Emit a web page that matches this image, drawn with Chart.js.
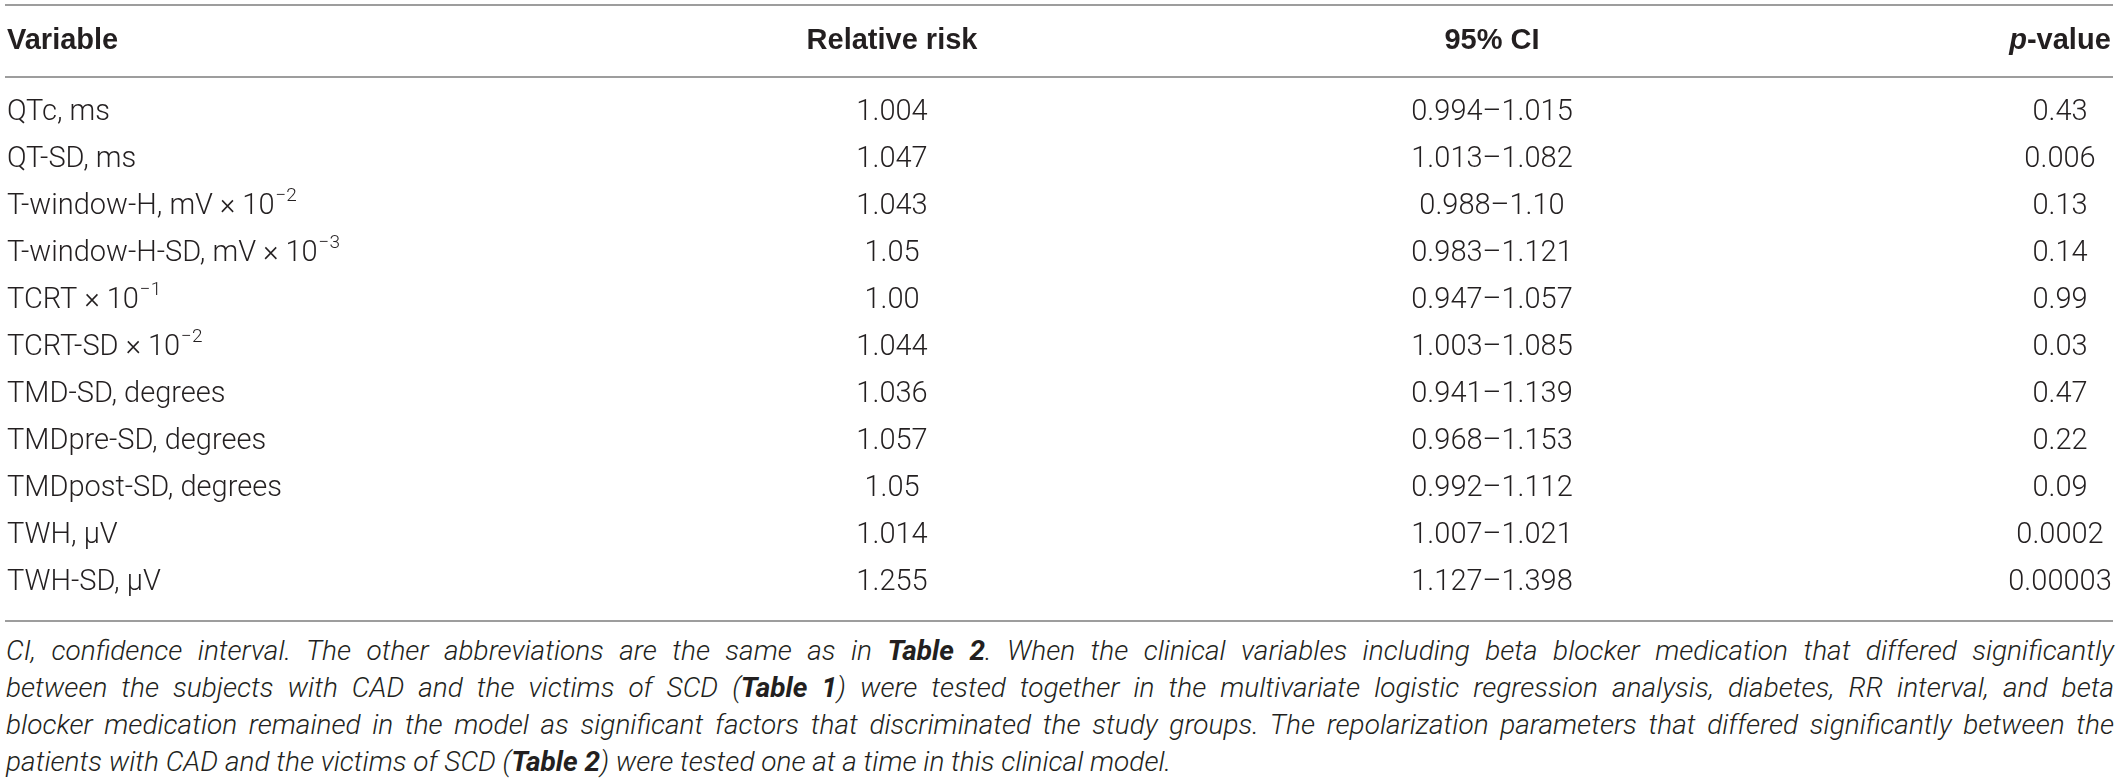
<!DOCTYPE html>
<html>
<head>
<meta charset="utf-8">
<script src="https://cdn.jsdelivr.net/npm/chart.js@4/dist/chart.umd.min.js"></script>
<style>
  html, body { margin: 0; padding: 0; background: #ffffff; }
  #wrap { position: relative; width: 2120px; height: 632px; }
  #cap {
    width: 2108px; margin-left: 6px;
    font-family: Roboto, "Liberation Sans", sans-serif;
    font-weight: 300; font-style: italic; font-size: 28px; line-height: 37px;
    color: #231f20;
  }
  #cap .ln { text-align: justify; text-align-last: justify; white-space: nowrap; }
  #cap .last { text-align: left; white-space: nowrap; }
  #cap b { font-weight: 700; }
</style>
</head>
<body>
<div id="wrap"><canvas id="c"></canvas></div>
<div id="cap">
  <div class="ln">CI, confidence interval. The other abbreviations are the same as in <b>Table 2</b>. When the clinical variables including beta blocker medication that differed significantly</div>
  <div class="ln">between the subjects with CAD and the victims of SCD (<b>Table 1</b>) were tested together in the multivariate logistic regression analysis, diabetes, RR interval, and beta</div>
  <div class="ln">blocker medication remained in the model as significant factors that discriminated the study groups. The repolarization parameters that differed significantly between the</div>
  <div class="last">patients with CAD and the victims of SCD (<b>Table 2</b>) were tested one at a time in this clinical model.</div>
</div>
<script>
// ---- data ----
const variables = [
  'QTc, ms', 'QT-SD, ms', 'T-window-H, mV × 10', 'T-window-H-SD, mV × 10',
  'TCRT × 10', 'TCRT-SD × 10', 'TMD-SD, degrees', 'TMDpre-SD, degrees',
  'TMDpost-SD, degrees', 'TWH, μV', 'TWH-SD, μV'
];
const variableExponents = ['', '', '−2', '−3', '−1', '−2', '', '', '', '', ''];
const relativeRisk = ['1.004','1.047','1.043','1.05','1.00','1.044','1.036','1.057','1.05','1.014','1.255'];
const ciLower = ['0.994','1.013','0.988','0.983','0.947','1.003','0.941','0.968','0.992','1.007','1.127'];
const ciUpper = ['1.015','1.082','1.10','1.121','1.057','1.085','1.139','1.153','1.112','1.021','1.398'];
const pValues = ['0.43','0.006','0.13','0.14','0.99','0.03','0.47','0.22','0.09','0.0002','0.00003'];
const headers = ['Variable', 'Relative risk', '95% CI', 'p-value'];

// ---- layout / style ----
const W = 2120, H = 632;
const TEXT = '#231f20', RULE = '#9d9d9d';
const BODY_FONT = '300 29px Roboto, "Liberation Sans", sans-serif';
const SUP_FONT = '300 19px Roboto, "Liberation Sans", sans-serif';
const HEAD_FONT = 'bold 29px "Liberation Sans", Arial, sans-serif';
const HEAD_FONT_I = 'italic bold 29px "Liberation Sans", Arial, sans-serif';
const COL_X = [7, 892, 1492, 2060];   // x-scale values for the column anchors

const tablePlugin = {
  id: 'tableCells',
  afterDraw(chart) {
    const ctx = chart.ctx, xs = chart.scales.x, ys = chart.scales.y;
    const y0 = ys.getPixelForValue(0), step = ys.getPixelForValue(1) - y0;
    const yLast = ys.getPixelForValue(variables.length - 1);
    const headY = y0 - step * 1.53;
    const x0 = xs.getPixelForValue(5), x1 = xs.getPixelForValue(2113);
    ctx.save();
    // rules
    ctx.strokeStyle = RULE; ctx.lineWidth = 2;
    [headY - 36, headY + 36, yLast + 38].forEach(yy => {
      ctx.beginPath(); ctx.moveTo(x0, yy); ctx.lineTo(x1, yy); ctx.stroke();
    });
    ctx.fillStyle = TEXT; ctx.textBaseline = 'middle';
    // header
    ctx.font = HEAD_FONT;
    ctx.textAlign = 'left';
    ctx.fillText(headers[0], xs.getPixelForValue(COL_X[0]), headY);
    ctx.textAlign = 'center';
    ctx.fillText(headers[1], xs.getPixelForValue(COL_X[1]), headY);
    ctx.fillText(headers[2], xs.getPixelForValue(COL_X[2]), headY);
    // p-value with italic p
    const pPart = headers[3].slice(0, 1), rest = headers[3].slice(1);
    ctx.font = HEAD_FONT_I; const wp = ctx.measureText(pPart).width;
    ctx.font = HEAD_FONT; const wr = ctx.measureText(rest).width;
    let px = xs.getPixelForValue(COL_X[3]) - (wp + wr) / 2;
    ctx.textAlign = 'left';
    ctx.font = HEAD_FONT_I; ctx.fillText(pPart, px, headY);
    ctx.font = HEAD_FONT; ctx.fillText(rest, px + wp, headY);
    // body
    variables.forEach((v, i) => {
      const yy = ys.getPixelForValue(i);
      ctx.font = BODY_FONT; ctx.textAlign = 'left';
      const vx = xs.getPixelForValue(COL_X[0]);
      ctx.fillText(v, vx, yy);
      if (variableExponents[i]) {
        const w = ctx.measureText(v).width;
        ctx.font = SUP_FONT;
        ctx.fillText(variableExponents[i], vx + w + 1, yy - 11);
        ctx.font = BODY_FONT;
      }
      ctx.textAlign = 'center';
      ctx.fillText(relativeRisk[i], xs.getPixelForValue(COL_X[1]), yy);
      ctx.fillText(ciLower[i] + '–' + ciUpper[i], xs.getPixelForValue(COL_X[2]), yy);
      ctx.fillText(pValues[i], xs.getPixelForValue(COL_X[3]), yy);
    });
    ctx.restore();
  }
};

new Chart(document.getElementById('c'), {
  type: 'scatter',
  data: { labels: variables, datasets: [] },
  options: {
    responsive: true, maintainAspectRatio: false, animation: false,
    events: [],
    layout: { padding: { top: 89.5, bottom: H - 606.5, left: 0, right: 0 } },
    plugins: { legend: { display: false }, tooltip: { enabled: false } },
    scales: {
      x: { type: 'linear', min: 0, max: W, display: false },
      y: { type: 'category', labels: variables, offset: true, display: false }
    }
  },
  plugins: [tablePlugin]
});
</script>
</body>
</html>
